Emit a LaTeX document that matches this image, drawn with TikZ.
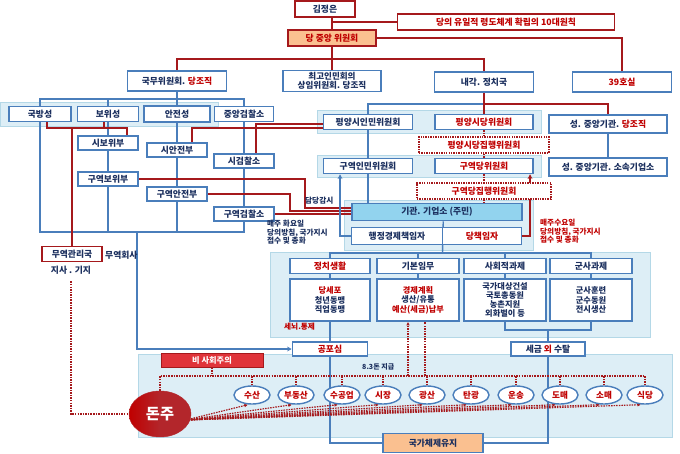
\documentclass[tikz,border=0pt]{standalone}
\usepackage{fontspec}
\setmainfont{Noto Sans CJK KR}
\usetikzlibrary{shapes.geometric,arrows.meta,backgrounds}
\definecolor{navy}{HTML}{1B2F5E}
\definecolor{kred}{HTML}{C00000}
\definecolor{lred}{HTML}{A5191C}
\definecolor{bl}{HTML}{4A7EBB}
\definecolor{pan}{HTML}{DDEEF6}
\definecolor{panb}{HTML}{B4D8E7}
\definecolor{org}{HTML}{FAC090}
\definecolor{sky}{HTML}{92D3EE}
\definecolor{dred}{HTML}{B3262B}
\definecolor{bsred}{HTML}{E0343A}
\newdimen\pxu \pxu=0.03cm
\begin{document}
\begin{tikzpicture}[x=0.03cm,y=-0.03cm,
  every node/.style={font=\bfseries\fontsize{7.5}{8.5}\selectfont, text=navy, inner sep=0pt},
  bx/.style 2 args={draw=bl, line width=1.3pt, fill=white, minimum width=#1*0.03cm, minimum height=#2*0.03cm},
  rbx/.style 2 args={bx={#1}{#2}, draw=lred},
  dbx/.style 2 args={draw=lred, line width=1.2pt, dash pattern=on 1.2pt off 0.9pt, fill=white, text=kred, minimum width=#1*0.03cm, minimum height=#2*0.03cm},
  qf/.style={align=center, font=\bfseries\fontsize{7}{8}\selectfont},
  bline/.style={draw=bl, line width=1.2pt},
  rline/.style={draw=lred, line width=1.2pt},
  dline/.style={draw=lred, line width=1.3pt, dash pattern=on 1.3pt off 0.9pt},
  panel/.style={fill=pan, draw=panb, line width=0.8pt},
  ell/.style={ellipse, draw=bl, line width=1.2pt, fill=white, text=kred, minimum width=36*0.03cm, minimum height=18*0.03cm, font=\bfseries\fontsize{7.3}{8}\selectfont},
  lbl/.style={font=\bfseries\fontsize{6.5}{7.2}\selectfont, align=left},
  tip/.style={-{Stealth[length=4pt,width=4pt]}},
  stip/.style={-{Latex[length=3pt,width=3pt]}}
]
\useasboundingbox (0,0) rectangle (680,453);

% ---------- top ----------
\node[rbx={60}{16}] (kje) at (325,9) {김정은};
\node[rbx={217}{16}, text=kred] (ten) at (506,22) {당의 유일적 령도체계 확립의 10대원칙};
\node[rbx={88}{16}, fill=org, text=kred] (cc) at (332,38) {당 중앙 위원회};
\node[bx={99}{20}] (kmw) at (177,81) {국무위원회. \textcolor{kred}{당조직}};
\node[bx={98}{21}, align=center, font=\bfseries\fontsize{7.3}{8}\selectfont] (sup) at (332,81) {최고인민회의\\상임위원회. 당조직};
\node[bx={99}{20}] (cab) at (484,82) {내각. 정치국};
\node[bx={99}{20}, text=kred] (r39) at (622,82) {39호실};

% ---------- left column ----------
\node[bx={62}{15}] (mnd) at (40,114) {국방성};
\node[bx={61}{15}] (bw) at (108,114) {보위성};
\node[bx={66}{16}] (aj) at (177,114) {안전성};
\node[bx={59}{15}] (jgc) at (244,114) {중앙검찰소};
\node[bx={60}{14}] (sbw) at (108,143) {시보위부};
\node[bx={60}{14}] (saj) at (177,150) {시안전부};
\node[bx={60}{14}] (sgc) at (244,161) {시검찰소};
\node[bx={60}{14}] (gbw) at (108,179) {구역보위부};
\node[bx={60}{14}] (gaj) at (177,194) {구역안전부};
\node[bx={60}{14}] (ggc) at (244,214) {구역검찰소};
\node[rbx={60}{15}] (mgk) at (72,254) {무역관리국};
\node[anchor=west] (mhs) at (105,255) {무역회사};
\node (jisa) at (71,270) {지사 . 기지};
\node[lbl, anchor=west] (ddg) at (305,201) {담당감시};
\node[lbl, anchor=north west] (tue) at (267,220) {매주 화요일\\당의방침, 국가지시\\접수 및 총화};

% ---------- right column ----------
\node[bx={89}{15}] (pyp) at (368,122) {평양시인민위원회};
\node[bx={98}{15}, text=kred] (pyd) at (484,122) {평양시당위원회};
\node[bx={118}{18}] (sjg) at (608,124) {성. 중앙기관. \textcolor{kred}{당조직}};
\node[dbx={130}{16}] (pye) at (484,145) {평양시당집행위원회};
\node[bx={89}{15}] (gip) at (368,166) {구역인민위원회};
\node[bx={98}{15}, text=kred] (gdw) at (484,166) {구역당위원회};
\node[bx={118}{18}] (sjs) at (608,167) {성. 중앙기관. 소속기업소};
\node[dbx={134}{16}] (gde) at (484,191) {구역당집행위원회};
\node[bx={170}{17}, fill=sky] (ent) at (437,212) {기관. 기업소 (주민)};
\node[bx={91}{17}] (hj) at (397,236) {행정경제책임자};
\node[bx={79}{17}, text=kred] (dc) at (482,236) {당책임자};
\node[lbl, anchor=north west, text=kred] (wed) at (540,219) {매주수요일\\당의방침, 국가지시\\접수 및 총화};

% ---------- tasks ----------
\node[bx={80}{15}, text=kred] (p1) at (330,266) {정치생활};
\node[bx={82}{15}] (p2) at (418,266) {기본임무};
\node[bx={82}{15}] (p3) at (505,266) {사회적과제};
\node[bx={82}{15}] (p4) at (591,266) {군사과제};
\node[bx={80}{42}, qf] (q1) at (330,300) {\textcolor{kred}{당세포}\\청년동맹\\직업동맹};
\node[bx={82}{42}, qf] (q2) at (418,300) {\textcolor{kred}{경제계획}\\생산/유통\\\textcolor{kred}{예산(세금)납부}};
\node[bx={82}{42}, qf, font=\bfseries\fontsize{7}{7.6}\selectfont] (q3) at (505,300) {국가대상건설\\국토총동원\\농촌지원\\외화벌이 등};
\node[bx={82}{42}, qf] (q4) at (591,300) {군사훈련\\군수동원\\전시생산};
\node[lbl, anchor=west, text=kred] (snt) at (284,327) {세뇌.통제};
\node[bx={75}{14}, text=kred] (fear) at (330,349) {공포심};
\node[bx={74}{14}] (tax) at (548,349) {세금 \textcolor{kred}{외} 수탈};
\node[bx={100}{19}, fill=org] (state) at (433,443) {국가체제유지};

% ---------- bottom ----------
\node[rbx={102}{14}, fill=bsred, draw=lred, line width=0.8pt, text=white, font=\bfseries\fontsize{7}{8}\selectfont] (bsj) at (212,360) {비 사회주의};
\node[lbl, anchor=west, font=\bfseries\fontsize{6}{7}\selectfont] (don83) at (362,367) {8.3돈 지급};
\foreach \n/\x/\t in {e1/252/수산, e2/296/부동산, e3/342/수공업, e4/383/시장, e5/427/광산, e6/471/탄광, e7/516/운송, e8/560/도매, e9/604/소매, e10/645/식당}
  \node[ell] (\n) at (\x,395) {\t};
\node[ellipse, left color=kred, right color=dred, middle color=dred, draw=dred, minimum width=62*0.03cm, minimum height=46*0.03cm, text=white, font=\bfseries\fontsize{13}{14}\selectfont] (donju) at (160,414) {돈주};

\coordinate (j1) at (332,59);
\coordinate (j2) at (177,99);
\coordinate (j3) at (137,232);
\coordinate (rj1) at (127,128);
\coordinate (rj2) at (484,104);
\coordinate (r1) at (305,200);
\coordinate (r2) at (290,205);
\coordinate (b1) at (442.5,253);
\coordinate (b2) at (548,330);
\coordinate (d1) at (212,376);
\coordinate (fan) at (186,420);
\coordinate (v1) at ([xshift=-10\pxu]q2.south);
\coordinate (v2) at ([xshift=7\pxu]q2.south);

\begin{scope}[on background layer]
  % panels
  \path[panel] (0,102) rectangle (218,126);
  \path[panel] (317,110) rectangle (541,133);
  \path[panel] (317,155) rectangle (541,177);
  \path[panel] (344,200) rectangle (533,250);
  \path[panel] (270,252) rectangle (650,337);
  \path[panel] (138,354) rectangle (672,437);

  % top red hierarchy
  \draw[rline] (cc.north |- kje.south) -- (cc.north);
  \draw[rline] (cc.north |- ten.west) -- (ten.west);
  \draw[rline] (cc.east) -| (r39.north);
  \draw[rline] (cc.south) -- (sup.north);
  \draw[rline] (kmw.north) |- (j1) -| (cab.north);

  % left blue hierarchy
  \draw[bline] (kmw.south) -- (j2);
  \draw[bline] (mnd.north) |- (j2) -| (jgc.north);
  \draw[bline] (bw.north) -- (bw.north |- j2);
  \draw[bline] (aj.north) -- (aj.north |- j2);
  \draw[bline] (mnd.south) |- (j3) -| (ggc.south);
  \draw[bline] (bw.south) -- (bw.south |- j3);
  \draw[bline] (aj.south) -- (aj.south |- j3);
  \draw[bline] (jgc.south) -- (ggc.north);
  \draw[bline, tip] (j3) |- (fear.west);

  % left red lines
  \draw[rline] ([xshift=7\pxu]mnd.south) |- (rj1) -- (rj1 |- sbw.north);
  \draw[rline] ([xshift=-4\pxu]bw.south) -- ([xshift=-4\pxu]bw.south |- rj1);
  \draw[rline] (mgk.north) -- (mgk.north |- rj1);
  \draw[rline] ([yshift=-2\pxu]pyp.west) -| ([xshift=12\pxu]sgc.north);
  \draw[rline] ([yshift=-6\pxu]pyp.west) -| ([xshift=15\pxu]saj.north);
  \draw[rline] (gbw.east) -| (r1) |- ([yshift=4\pxu]ent.west);
  \draw[rline] (gaj.east) -| (r2) |- ([yshift=1\pxu]ent.west);
  \draw[rline] (ggc.east) -- (ggc.east -| ent.west);

  % right hierarchy
  \draw[bline] (pyp.north) |- (rj2);
  \draw[rline] (cab.south) -- (pyd.north);
  \draw[rline] (rj2) -| (sjg.north);
  \draw[bline] (sjg.south) -- (sjs.north);
  \draw[bline] (pyp.south) -- (gip.north);
  \draw[bline] (gip.south) -- (gip.south |- ent.north);
  \draw[dline] (pyd.south) -- (pye.north);
  \draw[dline] (pye.south) -- (gdw.north);
  \draw[dline] (gdw.south) -- (gde.north);
  \draw[dline] (gde.south) -- (gde.south |- ent.north);
  \draw[bline, tip] (hj.west) -| ([xshift=-28\pxu]gip.south);
  \draw[rline, tip] (dc.east) -| ([xshift=46\pxu]gdw.south);

  % tasks
  \draw[bline] (hj.east |- ent.south) -- (b1);
  \draw[bline] (p1.north) |- (b1) -| (p4.north);
  \draw[bline] (p2.north) -- (p2.north |- b1);
  \draw[bline] (p3.north) -- (p3.north |- b1);
  \draw[bline] (p1.south) -- (q1.north);
  \draw[bline] (p2.south) -- (q2.north);
  \draw[bline] (p3.south) -- (q3.north);
  \draw[bline] (p4.south) -- (q4.north);
  \draw[bline] (q1.south) -- (fear.north);
  \draw[bline] (q3.south) |- (b2) -| (q4.south);
  \draw[bline] (b2) -- (tax.north);
  \draw[bline] (fear.south) |- (state.west);
  \draw[bline] (tax.south) |- (state.east);

  % bottom dotted network
  \draw[dline] (bsj.south) -- (d1);
  \draw[dline] (donju.north) |- (d1) -| (e10.north);
  \foreach \n in {e1,e2,e3,e4,e5,e6,e7,e8,e9}
    \draw[dline] (\n.north) -- (\n.north |- d1);
  \draw[dline, stip] (v1 |- d1) -- (v1);
  \draw[dline] (v2 |- d1) -- (v2);
  \foreach \n in {e1,e2,e3,e4,e5,e6,e7,e8,e9,e10}
    \draw[dline, line width=1pt, stip] (fan) -- ([xshift=-4\pxu]\n.south);
  \draw[dline] ([yshift=-7\pxu]jisa.south) |- (donju.west);
\end{scope}
\end{tikzpicture}
\end{document}
